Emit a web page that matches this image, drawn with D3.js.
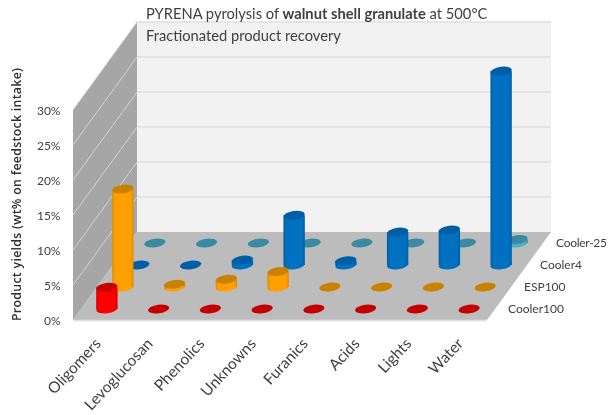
<!DOCTYPE html>
<html><head><meta charset="utf-8">
<script src="https://cdnjs.cloudflare.com/ajax/libs/d3/7.8.5/d3.min.js"></script>
<style>html,body{margin:0;padding:0;background:#fff}svg{display:block;filter:blur(0.4px)}text{font-family:Lato,"Open Sans",sans-serif;fill:#404040}</style>
</head><body><svg id="c" width="608" height="415"></svg>
<script>
const categories = ["Oligomers","Levoglucosan","Phenolics","Unknowns","Furanics","Acids","Lights","Water"];
const seriesNames = ["Cooler100","ESP100","Cooler4","Cooler-25"];
const cooler100 = [3.1,0,0,0,0,0,0,0];
const esp100 = [14,0.4,1.1,2.2,0,0,0,0];
const cooler4 = [0,0,0.7,7.1,0.6,4.7,5,27.7];
const coolerM25 = [0,0,0,0,0,0,0,0.5];
const seriesValues = [cooler100, esp100, cooler4, coolerM25];
const sideColors = ["#ff0000","#ffa000","#0070c0","#4bacc6"];
const sideDark = ["#d80000","#e08c00","#0060a8","#3a94ac"];
const topColors = ["#c40000","#c98200","#005ea6","#3a8ba2"];
const yTicks = [0,5,10,15,20,25,30];

const X0 = 73, X1 = 487, Y0 = 320, DEPTH = 88, SHEAR = 64, RX = 10.7, RY = 4.3, TILT = -8;
const svg = d3.select("#c");
const x = d3.scaleBand().domain(categories).range([X0, X1]);
const depth = d3.scaleBand().domain(seriesNames).range([0, DEPTH]);
const h = d3.scaleLinear().domain([0, 30]).range([0, 210]);
const dx = d => d * SHEAR / DEPTH;

const defs = svg.append("defs");
seriesNames.forEach((s, i) => {
  const g = defs.append("linearGradient").attr("id", "g" + i);
  [[0, sideDark[i]], [0.15, sideColors[i]], [0.85, sideColors[i]], [1, sideDark[i]]]
    .forEach(([o, c]) => g.append("stop").attr("offset", o).attr("stop-color", c));
});

const poly = (pts, fill) => svg.append("polygon").attr("points", pts.map(p => p.join(",")).join(" ")).attr("fill", fill);
const H = h(30);
poly([[X0 + SHEAR, Y0 - DEPTH], [X1 + SHEAR, Y0 - DEPTH], [X1 + SHEAR, Y0 - DEPTH - H], [X0 + SHEAR, Y0 - DEPTH - H]], "#f2f2f2");
poly([[X0, Y0], [X0 + SHEAR, Y0 - DEPTH], [X0 + SHEAR, Y0 - DEPTH - H], [X0, Y0 - H]], "#a6a6a6");
poly([[X0, Y0], [X1, Y0], [X1 + SHEAR, Y0 - DEPTH], [X0 + SHEAR, Y0 - DEPTH]], "#bcbcbc");
svg.append("line").attr("x1", X0).attr("x2", X1).attr("y1", Y0 + .5).attr("y2", Y0 + .5).attr("stroke", "#dedede").attr("stroke-width", 1.5);

yTicks.slice(1).forEach(t => {
  const y = Y0 - h(t);
  svg.append("line").attr("x1", X0).attr("y1", y).attr("x2", X0 + SHEAR).attr("y2", y - DEPTH).attr("stroke", "#d4d4d4").attr("stroke-width", 1);
  svg.append("line").attr("x1", X0 + SHEAR).attr("y1", y - DEPTH).attr("x2", X1 + SHEAR).attr("y2", y - DEPTH).attr("stroke", "#dfdfdf").attr("stroke-width", 1.5);
});

[3, 2, 1, 0].forEach(si => {
  const d = depth(seriesNames[si]) + depth.bandwidth() / 2;
  categories.forEach((c, j) => {
    const cx = x(c) + x.bandwidth() / 2 + dx(d);
    const by = Y0 - d;
    const tall = h(seriesValues[si][j]);
    const g = svg.append("g");
    const ell = (y, fill) => g.append("ellipse").attr("rx", RX).attr("ry", RY)
      .attr("transform", `translate(${cx},${y}) rotate(${TILT})`).attr("fill", fill);
    if (tall > 0) {
      ell(by, `url(#g${si})`);
      g.append("rect").attr("x", cx - RX).attr("width", RX * 2).attr("y", by - tall).attr("height", tall).attr("fill", `url(#g${si})`);
    }
    ell(by - tall, topColors[si]);
  });
});

const yAxisScale = d3.scaleLinear().domain([0, 30]).range([Y0, Y0 - H]);
const yg = svg.append("g").attr("transform", "translate(60.5,0)")
  .call(d3.axisLeft(yAxisScale).tickValues(yTicks).tickSize(0).tickFormat(d => d + "%"));
yg.select(".domain").remove();
yg.selectAll("text").attr("x", 0).attr("dy", ".35em").style("font-size", "12px").style("font-family", "Lato,sans-serif");

categories.forEach(c => {
  const px = x(c) + x.bandwidth() / 2 - 5;
  svg.append("text").attr("transform", `translate(${px},337) rotate(-47)`)
    .attr("text-anchor", "end").attr("dy", ".7em").style("font-size", "15.5px").text(c);
});

seriesNames.forEach(s => {
  const d = depth(s) + depth.bandwidth() / 2;
  svg.append("text").attr("x", X1 + dx(d) + 13).attr("y", Y0 - d).attr("dy", ".35em").style("font-size", "12px").attr("textLength", s === "Cooler-25" ? 51 : null).text(s);
});

svg.append("text").attr("transform", "translate(21,194.5) rotate(-90)").attr("text-anchor", "middle")
  .attr("textLength", 253).style("font-family", "'Open Sans',sans-serif")
  .style("font-size", "12.3px").style("font-weight", "600").style("fill", "#303030")
  .text("Product yields (wt% on feedstock intake)");

const t1 = svg.append("text").attr("x", 146).attr("y", 19).style("font-size", "14.7px");
t1.append("tspan").text("PYRENA pyrolysis of ");
t1.append("tspan").style("font-weight", "700").text("walnut shell granulate");
t1.append("tspan").text(" at 500°C");
svg.append("text").attr("x", 146).attr("y", 41).style("font-size", "14.7px").text("Fractionated product recovery");
</script></body></html>
